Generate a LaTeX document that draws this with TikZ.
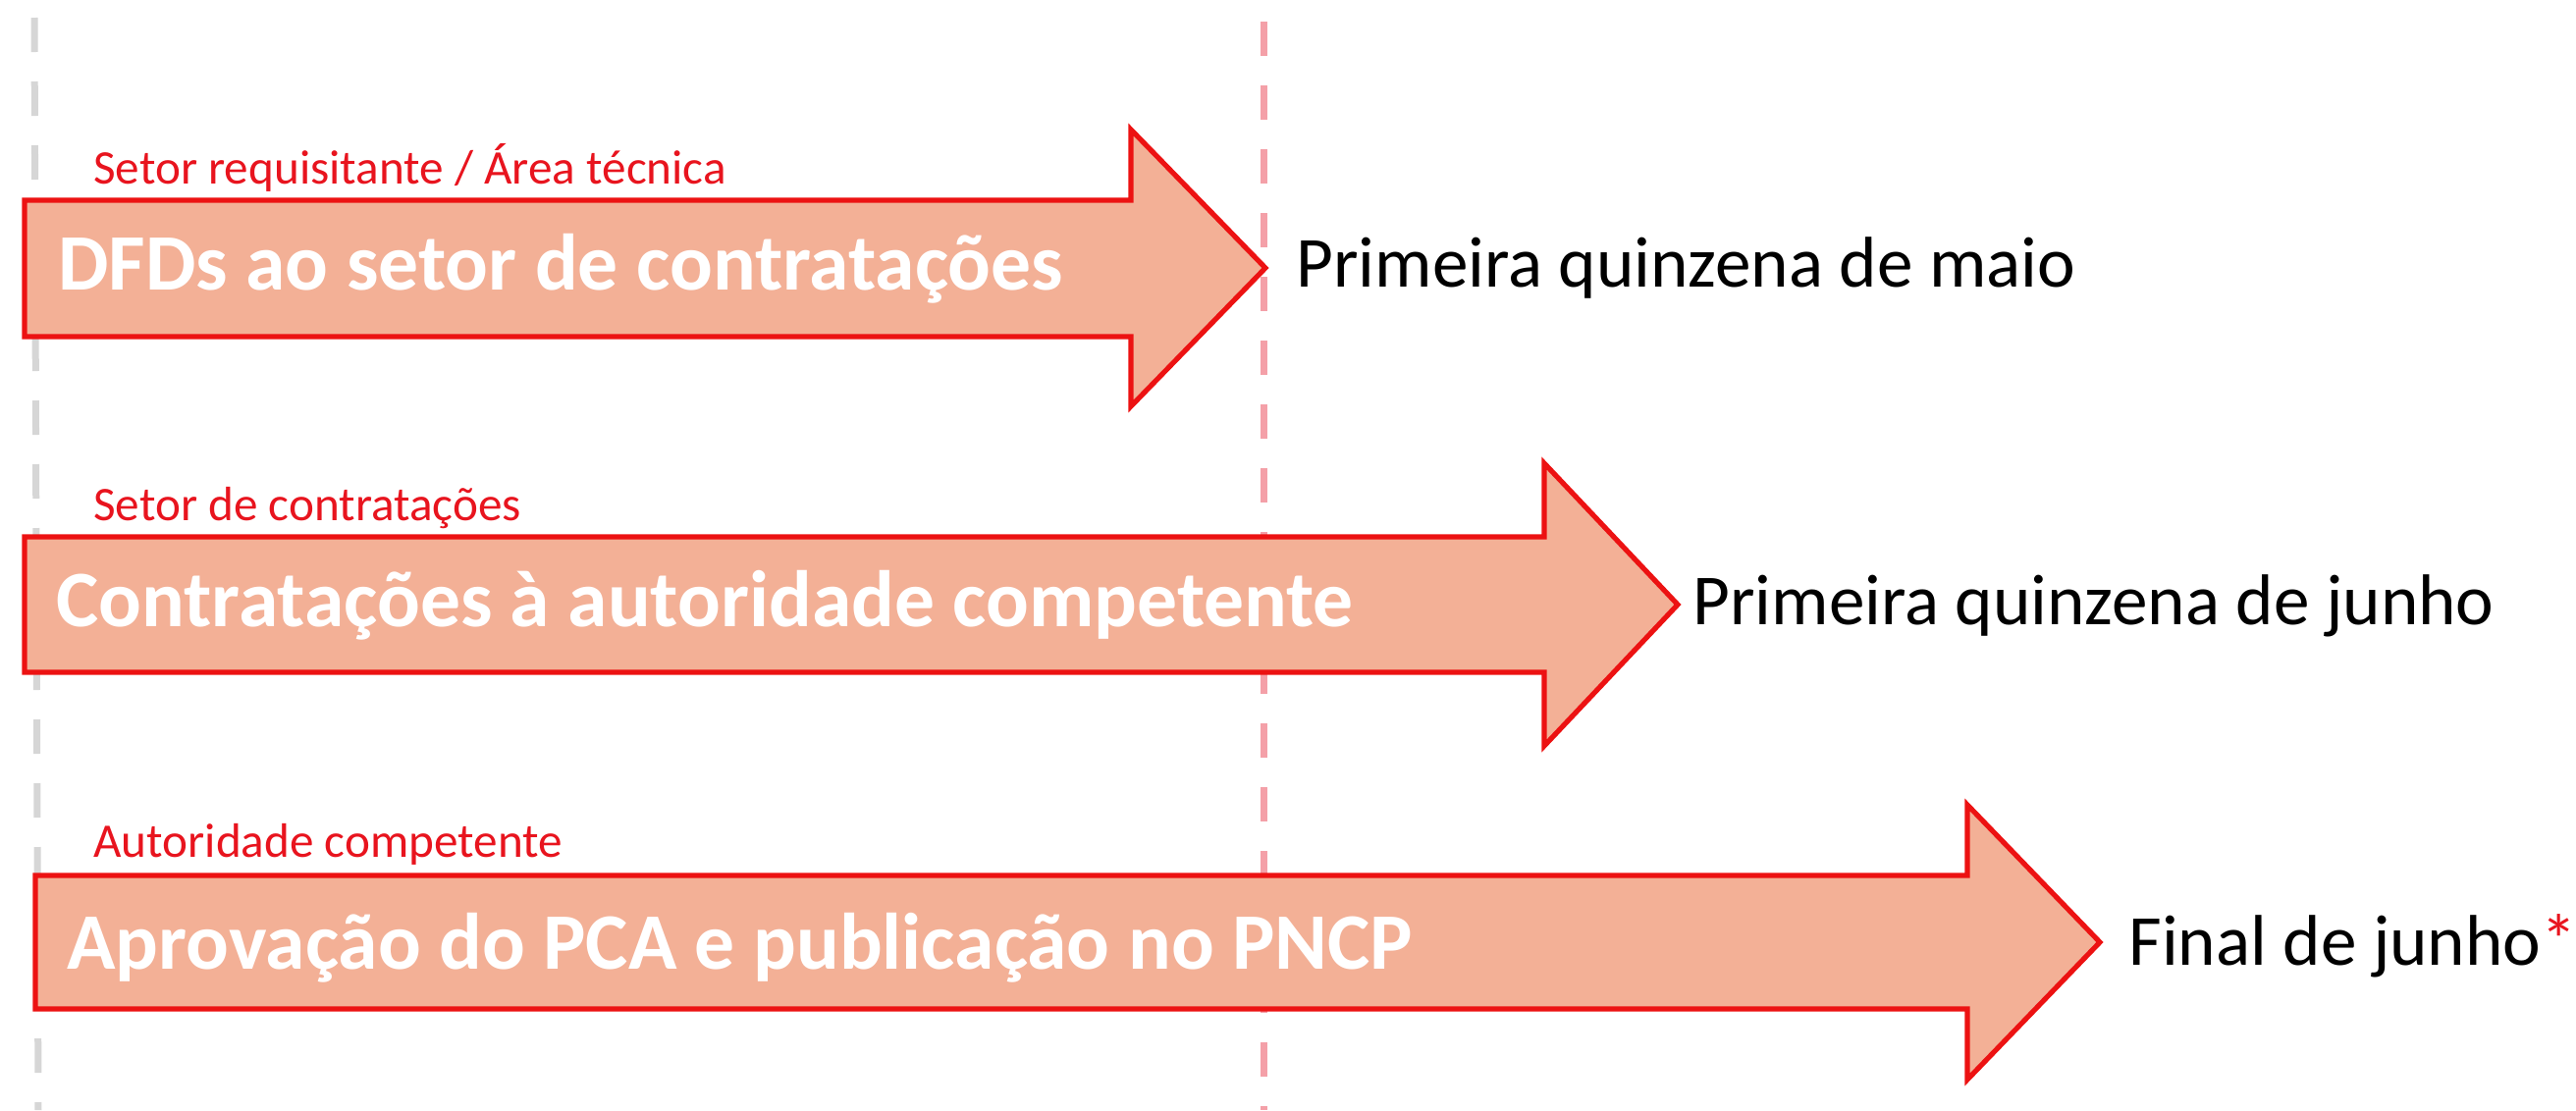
\documentclass[tikz,border=0pt]{standalone}
\usepackage{fontspec}
\setmainfont{Carlito}
\definecolor{arrowfill}{RGB}{243,176,150}
\definecolor{arrowline}{RGB}{236,18,18}
\definecolor{dashred}{RGB}{244,160,168}
\definecolor{dashgray}{RGB}{214,214,214}
\definecolor{labelred}{RGB}{232,20,30}
\begin{document}
\begin{tikzpicture}[x=0.5pt,y=-0.5pt,
  bigarrow/.style={fill=arrowfill, draw=arrowline, line width=2.6pt, line join=miter},
  task/.style={anchor=base west, inner sep=0, text=white, font=\bfseries\fontsize{40.8}{48}\selectfont},
  who/.style={anchor=base west, inner sep=0, text=labelred, font=\fontsize{24.6}{28}\selectfont},
  when/.style={anchor=base west, inner sep=0, text=black, font=\fontsize{36.6}{44}\selectfont},
  guide/.style={line width=3.5pt, dash pattern=on 17.5pt off 15pt}
]
\useasboundingbox (0,0) rectangle (2624,1131);
\draw[guide, dashgray] (35,18) -- (39,1131);
\draw[guide, dashred] (1287,22) -- (1287,1131);

% arrow 1
\draw[bigarrow] (25,204) -- (1152,204) -- (1152,132) -- (1289,273) -- (1152,414) -- (1152,343) -- (25,343) -- cycle;
\node[who] (w1) at (95,187) {Setor requisitante / Área técnica};
\node[task] (t1) at (59,295) {DFDs ao setor de contratações};
\node[when] (d1) at (1320,292) {Primeira quinzena de maio};

% arrow 2
\draw[bigarrow] (25,547) -- (1573,547) -- (1573,472) -- (1709,616) -- (1573,760) -- (1573,685) -- (25,685) -- cycle;
\node[who] (w2) at (95,530) {Setor de contratações};
\node[task] (t2) at (57,638) {Contratações à autoridade competente};
\node[when] (d2) at (1724,636) {Primeira quinzena de junho};

% arrow 3
\draw[bigarrow] (36,892) -- (2004,892) -- (2004,820) -- (2139,960) -- (2004,1100) -- (2004,1028) -- (36,1028) -- cycle;
\node[who] (w3) at (95,873) {Autoridade competente};
\node[task] (t3) at (68,987) {Aprovação do PCA e publicação no PNCP};
\node[when] (d3) at (2168,983) {Final de junho\textcolor{labelred}{*}};
\end{tikzpicture}
\end{document}
